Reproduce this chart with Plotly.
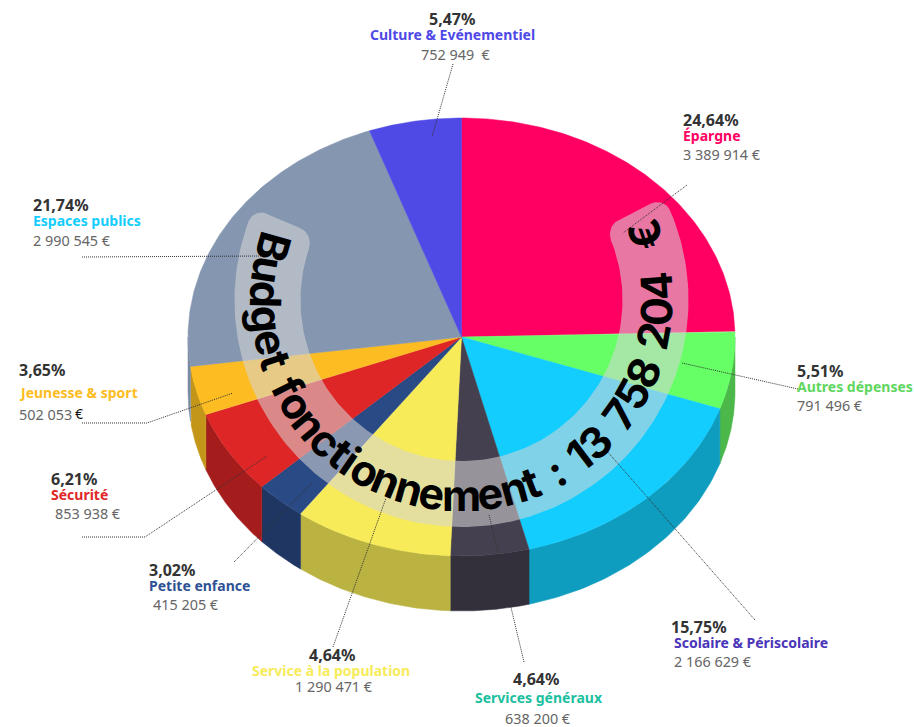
import math
import plotly.graph_objects as go

# ---------- data ----------
categories = ["Épargne", "Autres dépenses", "Scolaire & Périscolaire", "Services généraux",
              "Service à la population", "Petite enfance", "Sécurité", "Jeunesse & sport",
              "Espaces publics", "Culture & Evénementiel"]
amounts = [3389914, 791496, 2166629, 638200, 1290471, 415205, 853938, 502053, 2990545, 752949]
percent_labels = ["24,64%", "5,51%", "15,75%", "4,64%", "4,64%", "3,02%", "6,21%", "3,65%", "21,74%", "5,47%"]
amount_labels = ["3 389 914 €", "791 496 €", "2 166 629 €", "638 200 €", "1 290 471 €",
                 "415 205 €", "853 938 €", "502 053 ", "2 990 545 €", "752 949  €"]
title_text = "Budget fonctionnement : 13 758 204  €"

# ---------- styles and layout ----------
top_colors = ["#FF0062", "#66FF66", "#13CDFF", "#44404F", "#F7EB5A", "#2A4A85", "#DF2626", "#FDBC21", "#8596B0", "#4F49E6"]
side_colors = ["#B80047", "#4DB84A", "#0F9DBF", "#33303C", "#BAB342", "#1F3662", "#A41C1C", "#C39619", "#7A8AA3", "#3A36AA"]
name_colors = ["#FF0062", "#5FD65F", "#4A35B8", "#1CBFA0", "#F7EB5A", "#2F5294", "#E02828", "#FDBC21", "#13CDFF", "#4F49E6"]
CX, CY, RX, RY, DEPTH = 461.5, 337, 273.5, 219, 55

# label anchors: (x, y) of percent, name, amount rows
label_pos = [
    ((683, 120), (683, 135), (683, 154)),
    ((797, 371), (797, 386), (797, 405)),
    ((671, 627), (674, 642), (674, 661)),
    ((513, 679), (475, 697), (505, 718)),
    ((309, 655), (252, 670), (295, 686)),
    ((149, 570), (149, 585), (153, 604)),
    ((51, 479), (51, 494), (55, 513)),
    ((19, 370), (19, 392), (19, 414)),
    ((33, 205), (33, 220), (33, 240)),
    ((429, 19), (370, 34), (421, 54)),
]
leaders = [
    [(687, 185), (623, 233)],
    [(798, 389), (682, 363)],
    [(755, 620), (606, 450)],
    [(524, 662), (489, 515)],
    [(333, 647), (386, 498)],
    [(234, 562), (313, 482)],
    [(82, 537), (145, 537), (267, 456)],
    [(82, 423), (147, 423), (233, 393)],
    [(82, 257), (263, 256)],
    [(453, 64), (432, 137)],
]


def pt(t, dy=0.0):
    return CX + RX * math.sin(t), CY - RY * math.cos(t) + dy


fig = go.Figure()
total = sum(amounts)
angles = [0.0]
for v in amounts:
    angles.append(angles[-1] + v / total * 2 * math.pi)

# side walls (front half only)
for i in range(len(amounts)):
    a = max(angles[i], math.pi / 2)
    b = min(angles[i + 1], 3 * math.pi / 2)
    if b <= a:
        continue
    n = 60
    ts = [a + (b - a) * k / n for k in range(n + 1)]
    up = [pt(t) for t in ts]
    lo = [pt(t, DEPTH) for t in reversed(ts)]
    poly = up + lo + [up[0]]
    fig.add_trace(go.Scatter(x=[p[0] for p in poly], y=[p[1] for p in poly], mode="lines",
                             fill="toself", fillcolor=side_colors[i],
                             line=dict(color=side_colors[i], width=0.5), hoverinfo="skip"))

# top slices
for i in range(len(amounts)):
    n = 120
    ts = [angles[i] + (angles[i + 1] - angles[i]) * k / n for k in range(n + 1)]
    poly = [(CX, CY)] + [pt(t) for t in ts] + [(CX, CY)]
    fig.add_trace(go.Scatter(x=[p[0] for p in poly], y=[p[1] for p in poly], mode="lines",
                             fill="toself", fillcolor=top_colors[i],
                             line=dict(color=top_colors[i], width=0.5), name=categories[i],
                             hoverinfo="name"))

# curved band
BX, BY, BR, BW, CORNER = 461.5, 300, 194, 33, 15
A0, A1 = math.radians(-114), math.radians(117)  # measured from straight down, + = towards right


def band_pt(r, a):
    return BX + r * math.sin(a), BY + r * math.cos(a)


outer = []
inner = []
N = 160
for k in range(N + 1):
    a = A0 + (A1 - A0) * k / N
    outer.append(band_pt(BR + BW, a))
    inner.append(band_pt(BR - BW, a))


def cap_ext(u):
    flat = BW - CORNER
    px = CORNER if abs(u) <= flat else math.sqrt(max(CORNER ** 2 - (abs(u) - flat) ** 2, 0))
    return (px - CORNER) / (BR + u)


cap_r = []
cap_l = []
for k in range(0, 61):
    u = BW * (1 - 2 * k / 60)
    cap_r.append(band_pt(BR + u, A1 + cap_ext(u)))
    cap_l.append(band_pt(BR - u, A0 - cap_ext(-u)))
poly = outer[:-1] + cap_r + inner[::-1][1:-1] + cap_l + [cap_l[-1]]
fig.add_trace(go.Scatter(x=[p[0] for p in poly], y=[p[1] for p in poly], mode="lines", fill="toself",
                         fillcolor="rgba(214,214,214,0.56)", line=dict(width=0), hoverinfo="skip"))

# leader lines
for seg in leaders:
    fig.add_trace(go.Scatter(x=[p[0] for p in seg], y=[p[1] for p in seg], mode="lines",
                             line=dict(color="#333333", width=1, dash="1px,1px"), hoverinfo="skip"))

annotations = []
LABEL_FONT = "Noto Sans"
for i in range(len(amounts)):
    rows = [
        (percent_labels[i], 16, "#333333", 700),
        (categories[i], 14, name_colors[i], 700),
        (amount_labels[i], 14.4, "#666666", 400),
    ]
    for (txt, size, col, weight), (x, y) in zip(rows, label_pos[i]):
        annotations.append(dict(x=x, y=y, xref="x", yref="y", text=txt, showarrow=False, xanchor="left",
                                yanchor="middle", xshift=-2, align="left",
                                font=dict(family=LABEL_FONT, size=size, color=col, weight=weight)))
annotations.append(dict(x=73, y=413, xref="x", yref="y", text="€", showarrow=False, xanchor="left",
                        yanchor="middle", font=dict(family=LABEL_FONT, size=14, color="#111111")))

# curved title, letter by letter
widths = {"B": .66, "u": .61, "d": .63, "g": .63, "e": .60, "t": .39, " ": .36, "f": .38, "o": .62, "n": .61,
          "c": .59, "i": .27, "m": .91, ":": .28, "1": .45, "3": .63, "7": .58, "5": .62, "8": .63, "2": .61,
          "0": .65, "4": .66, "€": .63}
TEXT_R = 195
T0, T1 = math.radians(-109.6), math.radians(113)
sum_w = sum(widths[c] for c in title_text)
pos = 0.0
for c in title_text:
    w = widths[c]
    a = T0 + (T1 - T0) * (pos + w / 2) / sum_w
    pos += w
    if c == " ":
        continue
    x, y = band_pt(TEXT_R, a)
    annotations.append(dict(x=x, y=y, xref="x", yref="y", text=c, showarrow=False, xanchor="center",
                            yanchor="middle", textangle=-math.degrees(a),
                            font=dict(family="Inter", size=43, color="black", weight=700)))

fig.update_layout(
    width=914, height=727, margin=dict(l=0, r=0, t=0, b=0), showlegend=False,
    paper_bgcolor="white", plot_bgcolor="white",
    xaxis=dict(range=[0, 914], visible=False, fixedrange=True),
    yaxis=dict(range=[727, 0], visible=False, fixedrange=True),
    annotations=annotations,
)
fig.write_html("out.html", config={"displayModeBar": False}, post_script="document.body.style.margin='0';")
